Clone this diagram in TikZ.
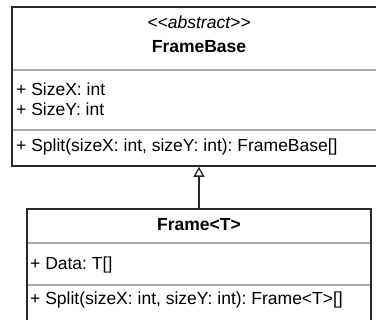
\documentclass[tikz,border=0pt]{standalone}
\usepackage{fontspec}
\setmainfont{Liberation Sans}[Ligatures=TeXOff]
\usetikzlibrary{arrows.meta,positioning}
\definecolor{BoxLine}{RGB}{40, 40, 40}
\definecolor{SepGray}{RGB}{170, 170, 170}

\begin{document}
\frenchspacing
\begin{tikzpicture}[x=1pt, y=1pt,
    classbox/.style={draw=BoxLine, line width=1.6pt, inner sep=0pt},
    sepline/.style={draw=SepGray, line width=1.4pt},
    member/.style={anchor=base west, inner sep=0pt, font=\fontsize{17.5}{20}\selectfont},
    title/.style={anchor=base, inner sep=0pt, font=\fontsize{17.5}{20}\selectfont\bfseries},
    inherits/.style={draw=BoxLine, line width=1.3pt, -{Triangle[open, length=10pt, width=11pt]}}]
    \useasboundingbox (0,0) rectangle (376,320);
    \clip (0,0) rectangle (376,320);

    % abstract base class
    \node[classbox, minimum width=374pt, minimum height=159pt] (base) at (199,233.5) {};
    \node[member, anchor=base, font=\fontsize{17.5}{20}\selectfont\itshape] (stereo) at (199,291)
      {<\kern0pt<abstract>\kern0pt>};
    \node[title] (basename) at (199,267) {FrameBase};
    \draw[sepline] (12.8,250) -- (385.2,250);
    \node[member] (sizex) at (16,224) {+ SizeX: int};
    \node[member] (sizey) at (16,204) {+ SizeY: int};
    \draw[sepline] (12.8,190) -- (385.2,190);
    \node[member] (basesplit) at (16,168) {+ Split(sizeX: int, sizeY: int): FrameBase[]};

    % generic frame
    \node[classbox, minimum width=344pt, minimum height=121pt] (frame) at (199,50.5) {};
    \node[title] (framename) at (199,89) {Frame<T>};
    \draw[sepline] (27.8,77) -- (370.2,77);
    \node[member] (data) at (30,50) {+ Data: T[]};
    \draw[sepline] (27.8,35) -- (370.2,35);
    \node[member] (framesplit) at (30,15) {+ Split(sizeX: int, sizeY: int): Frame<T>[]};

    \draw[inherits] (frame.north) -- (base.south);
\end{tikzpicture}
\end{document}
